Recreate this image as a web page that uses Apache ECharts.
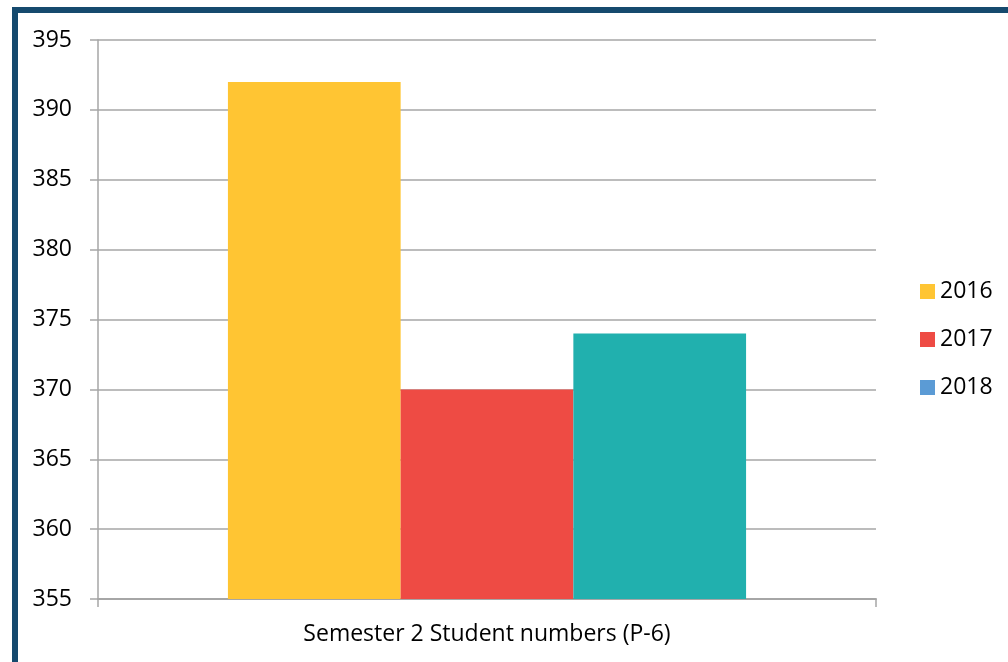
<!DOCTYPE html>
<html>
<head>
<meta charset="utf-8">
<script src="https://cdn.jsdelivr.net/npm/echarts@6/dist/echarts.min.js"></script>
<style>
  html, body { margin: 0; padding: 0; background: #ffffff; }
  #chart { width: 1008px; height: 662px; }
</style>
</head>
<body>
<div id="chart"></div>
<script>
// Semester 2 student numbers (P-6) by year
const categories = ['Semester 2 Student numbers (P-6)'];
const years = ['2016', '2017', '2018'];
const values2016 = [392];
const values2017 = [370];
const values2018 = [374];
const yTicks = { min: 355, max: 395, interval: 5 };

const barColors = ['#FFC533', '#EE4B44', '#21B0AE'];
const legendColors = ['#FFC533', '#EE4B44', '#5B9BD5'];
const seriesValues = [values2016, values2017, values2018];
const fontFamily = '"Open Sans", sans-serif';

const chart = echarts.init(document.getElementById('chart'), null, { renderer: 'canvas' });

chart.setOption({
  animation: false,
  backgroundColor: '#ffffff',
  graphic: [{
    type: 'rect',
    silent: true,
    z: 100,
    shape: { x: 15, y: 10, width: 1100, height: 1000 },
    style: { fill: 'none', stroke: '#154A6E', lineWidth: 6 }
  }],
  grid: { left: 98, right: 132, top: 40, bottom: 63, containLabel: false },
  legend: {
    orient: 'vertical',
    left: 915,
    top: 275,
    itemWidth: 15,
    itemHeight: 15,
    itemGap: 25,
    icon: 'rect',
    textStyle: { fontSize: 23, color: '#000', fontFamily: fontFamily },
    data: years.map((y, i) => ({ name: y, itemStyle: { color: legendColors[i] } }))
  },
  xAxis: {
    type: 'category',
    data: categories,
    axisLine: { lineStyle: { color: '#A6A6A6', width: 2 } },
    axisTick: { show: true, length: 8, lineStyle: { color: '#A6A6A6', width: 1.5 } },
    axisLabel: { fontSize: 23, color: '#000', fontFamily: fontFamily, margin: 24 }
  },
  yAxis: {
    type: 'value',
    min: yTicks.min,
    max: yTicks.max,
    interval: yTicks.interval,
    axisLine: { show: true, lineStyle: { color: '#A6A6A6', width: 1.5 } },
    axisTick: { show: true, length: 8, lineStyle: { color: '#A6A6A6', width: 1.5 } },
    splitLine: { lineStyle: { color: '#A6A6A6', width: 1.5 } },
    axisLabel: { fontSize: 23, color: '#000', fontFamily: fontFamily, margin: 26 }
  },
  series: years.map((y, i) => ({
    name: y,
    type: 'bar',
    data: seriesValues[i],
    barGap: '0%',
    barCategoryGap: '33.4%',
    itemStyle: { color: barColors[i] }
  }))
});
</script>
</body>
</html>
